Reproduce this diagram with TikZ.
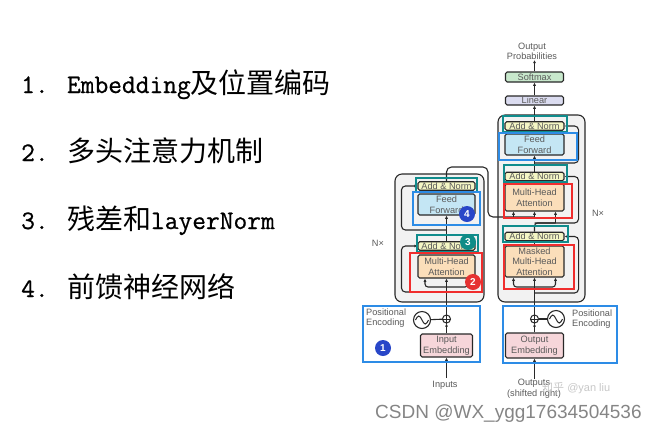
\documentclass[tikz,border=0pt]{standalone}
\usepackage{fontspec}
\usetikzlibrary{arrows.meta,calc}
\newfontfamily\listcjk{Noto Sans CJK SC}
\newfontfamily\diagsans{Liberation Sans}
\newfontfamily\listmonofam[FakeBold=0.7]{Latin Modern Mono}
\newcommand{\listmono}{\listmonofam\fontsize{26.7bp}{30bp}\selectfont}

\definecolor{dk}{RGB}{40,40,40}
\definecolor{txt}{RGB}{90,90,90}
\definecolor{anfill}{RGB}{243,245,196}
\definecolor{fffill}{RGB}{196,230,244}
\definecolor{mhafill}{RGB}{251,222,186}
\definecolor{embfill}{RGB}{246,214,218}
\definecolor{linfill}{RGB}{219,220,240}
\definecolor{smfill}{RGB}{200,232,204}
\definecolor{nxfill}{RGB}{242,242,242}
\definecolor{hlteal}{RGB}{16,140,140}
\definecolor{hlblue}{RGB}{45,140,230}
\definecolor{hlred}{RGB}{240,45,45}
\definecolor{bdblue}{RGB}{40,70,200}
\definecolor{bdred}{RGB}{230,50,50}
\definecolor{bdteal}{RGB}{15,140,135}

\tikzset{
  dfont/.style={font=\diagsans\fontsize{9.2bp}{10.6bp}\selectfont, text=txt},
  blk/.style={draw=dk, line width=1.1bp, rounded corners=1.6bp, inner sep=0pt,
              align=center, dfont},
  anbox/.style={blk, fill=anfill, minimum height=8.5bp},
  ffbox/.style={blk, fill=fffill, minimum height=21bp},
  mhabox/.style={blk, fill=mhafill},
  embbox/.style={blk, fill=embfill},
  link/.style={draw=dk, line width=1.1bp},
  arr/.style={link, -{Latex[length=3.2bp,width=3.2bp]}},
  hl/.style={line width=1.8bp, draw=#1},
  badge/.style={circle, fill=#1, text=white, minimum size=16bp, inner sep=0pt,
                font=\diagsans\bfseries\fontsize{10bp}{10bp}\selectfont},
  nxbox/.style={draw=dk, fill=nxfill, line width=1.1bp, rounded corners=7bp},
  listitem/.style={anchor=base west, inner sep=0pt,
                   font=\fontsize{28bp}{30bp}\selectfont},
  sinecirc/.style={circle, draw=dk, line width=1.1bp, minimum size=17bp, inner sep=0pt},
  pluscirc/.style={circle, draw=dk, line width=1bp, minimum size=8bp, inner sep=0pt},
}

\begin{document}
\begin{tikzpicture}[x=1bp, y=-1bp]
\useasboundingbox (0,0) rectangle (658,431);

% ---------- topic list ----------
\node[listitem] (item1) at (21,93) {{\listmono 1. Embedding}\listcjk 及位置编码};
\node[listitem] (item2) at (21,161) {{\listmono 2. }\listcjk 多头注意力机制};
\node[listitem] (item3) at (21,229) {{\listmono 3. }{\listcjk 残差和}{\listmono layerNorm}};
\node[listitem] (item4) at (21,297) {{\listmono 4. }\listcjk 前馈神经网络};

% ---------- N x stacks ----------
\draw[nxbox] (395,174) rectangle (484,302);
\draw[nxbox] (498,115) rectangle (585,302);

% ---------- encoder ----------
\node[anbox, minimum width=57bp] (ean2) at (446.5,186) {Add \& Norm};
\node[ffbox, minimum width=57bp] (eff) at (446.5,204.5) {Feed\\Forward};
\node[anbox, minimum width=57bp] (ean1) at (446.5,246) {Add \& Norm};
\node[mhabox, minimum width=57bp, minimum height=23bp] (emha) at (446.5,266.5) {Multi-Head\\Attention};
\node[embbox, minimum width=52bp, minimum height=23bp] (eemb) at (446.5,345.5) {Input\\Embedding};
\node[pluscirc] (eplus) at (446.5,319) {};
\node[sinecirc] (esine) at (422,320) {};
\node[dfont, anchor=north] (inputs) at (445,378) {Inputs};
\node[dfont, anchor=west, align=left, inner sep=0pt] (epos) at (366,318) {Positional\\Encoding};
\node[dfont] (enx) at (378,243) {N×};

% ---------- decoder ----------
\node[dfont, align=center, anchor=south, inner sep=0pt] (probs) at (532,60) {Output\\Probabilities};
\node[blk, fill=smfill, minimum width=58bp, minimum height=10bp] (softmax) at (534.5,77) {Softmax};
\node[blk, fill=linfill, minimum width=58bp, minimum height=9bp] (linear) at (534.5,100.5) {Linear};
\node[anbox, minimum width=59bp] (dan3) at (534.5,126) {Add \& Norm};
\node[ffbox, minimum width=59bp] (dff) at (534.5,144.5) {Feed\\Forward};
\node[anbox, minimum width=59bp] (dan2) at (534.5,176.5) {Add \& Norm};
\node[mhabox, minimum width=59bp, minimum height=27bp] (dmha) at (534.5,197.5) {Multi-Head\\Attention};
\node[anbox, minimum width=59bp] (dan1) at (534.5,236.5) {Add \& Norm};
\node[mhabox, minimum width=59bp, minimum height=31bp] (dmmha) at (534.5,261.5) {Masked\\Multi-Head\\Attention};
\node[embbox, minimum width=58bp, minimum height=25bp] (demb) at (534.5,345.5) {Output\\Embedding};
\node[pluscirc] (dplus) at (534.5,319) {};
\node[sinecirc] (dsine) at (556,319) {};
\node[dfont, anchor=north, align=center, inner sep=0pt] (outputs) at (534,379) {Outputs\\(shifted right)};
\node[dfont, anchor=west, align=left, inner sep=0pt] (dpos) at (572,319) {Positional\\Encoding};
\node[dfont] (dnx) at (598,213) {N×};

% plus signs and sine waves
\draw[dk, line width=0.9bp] (eplus.north) -- (eplus.south) (eplus.west) -- (eplus.east);
\draw[dk, line width=0.9bp] (dplus.north) -- (dplus.south) (dplus.west) -- (dplus.east);
\draw[dk, line width=1bp] ([xshift=-6.5bp]esine.center) sin ([xshift=-3.25bp,yshift=4bp]esine.center)
      cos (esine.center) sin ([xshift=3.25bp,yshift=-4bp]esine.center) cos ([xshift=6.5bp]esine.center);
\draw[dk, line width=1bp] ([xshift=-6.5bp]dsine.center) sin ([xshift=-3.25bp,yshift=4bp]dsine.center)
      cos (dsine.center) sin ([xshift=3.25bp,yshift=-4bp]dsine.center) cos ([xshift=6.5bp]dsine.center);

% ---------- encoder connectors ----------
\coordinate (esplit) at (446.5,287);
\coordinate (eres1) at (446.5,292);
\coordinate (eres2) at (446.5,230);
\coordinate (eoutB) at (488,167);
\coordinate (kvL) at (513.5,217);
\coordinate (kvR) at (534.5,217);

\draw[arr] (eemb.south |- inputs.north) -- (eemb.south);
\draw[arr] (eemb.north) -- (eplus.south);
\draw[link] (esine) -- (eplus);
\draw[link] (eplus.north) -- (esplit);
\draw[arr] (esplit) -- (emha.south);
\draw[arr, rounded corners=3bp] (esplit) -| ([xshift=-21.5bp]emha.south);
\draw[arr, rounded corners=3bp] (esplit) -| ([xshift=21.5bp]emha.south);
\draw[arr, rounded corners=4bp] (eres1) -| ([xshift=-16bp]ean1.west) -- (ean1.west);
\draw[link] (emha.north) -- (ean1.south);
\draw[arr] (ean1.north) -- (eff.south);
\draw[arr, rounded corners=4bp] (eres2) -| ([xshift=-16bp]ean2.west) -- (ean2.west);
\draw[link] (eff.north) -- (ean2.south);
\draw[link, rounded corners=5bp] (ean2.north) |- (eoutB) |- (kvR);
\draw[arr] (kvL) -- (kvL |- dmha.south);
\draw[arr] (kvR) -- (dmha.south);

% ---------- decoder connectors ----------
\coordinate (dsplit) at (534.5,287);
\coordinate (dres1) at (534.5,293);
\coordinate (qsplit) at (534.5,223);
\coordinate (qR) at (555.5,223);
\coordinate (dres3) at (534.5,163);

\draw[arr] (demb.south |- outputs.north) -- (demb.south);
\draw[arr] (demb.north) -- (dplus.south);
\draw[link] (dsine) -- (dplus);
\draw[link] (dplus.north) -- (dsplit);
\draw[arr] (dsplit) -- (dmmha.south);
\draw[arr, rounded corners=3bp] (dsplit) -| ([xshift=-21bp]dmmha.south);
\draw[arr, rounded corners=3bp] (dsplit) -| ([xshift=21bp]dmmha.south);
\draw[arr, rounded corners=4bp] (dres1) -| ([xshift=14bp]dan1.east) -- (dan1.east);
\draw[link] (dmmha.north) -- (dan1.south);
\draw[link, rounded corners=3bp] (dan1.north) |- (qR);
\draw[arr] (qR) -- (qR |- dmha.south);
\draw[arr, rounded corners=4bp] (qsplit) -| ([xshift=14bp]dan2.east) -- (dan2.east);
\draw[link] (dmha.north) -- (dan2.south);
\draw[arr] (dan2.north) -- (dff.south);
\draw[arr, rounded corners=4bp] (dres3) -| ([xshift=14bp]dan3.east) -- (dan3.east);
\draw[link] (dff.north) -- (dan3.south);
\draw[arr] (dan3.north) -- (linear.south);
\draw[arr] (linear.north) -- (softmax.south);
\draw[arr] (softmax.north) -- (softmax.north |- probs.south);

% ---------- highlight frames ----------
\draw[hl=hlteal] (503,116) rectangle (567,132);
\draw[hl=hlteal] (504,165) rectangle (567,182);
\draw[hl=hlteal] (503,226) rectangle (568,242);
\draw[hl=hlteal] (416,178) rectangle (477,192);
\draw[hl=hlteal] (417,235) rectangle (478,252);
\draw[hl=hlblue] (499,133) rectangle (577,160);
\draw[hl=hlblue] (413,192) rectangle (480,225);
\draw[hl=hlblue] (363,306) rectangle (480,362);
\draw[hl=hlblue] (503,306) rectangle (617,363);
\draw[hl=hlred] (504,184) rectangle (572,218);
\draw[hl=hlred] (504,245) rectangle (574,289);
\draw[hl=hlred] (410,253) rectangle (482,292);

% ---------- numbered badges ----------
\node[badge=bdblue] (b1) at (383,348) {1};
\node[badge=bdred] (b2) at (473,282) {2};
\node[badge=bdteal] (b3) at (468,242) {3};
\node[badge=bdblue] (b4) at (467,214) {4};

% ---------- credits ----------
\node[anchor=west, inner sep=0pt, text=black!22, font=\diagsans\fontsize{11bp}{12bp}\selectfont]
  (zh) at (542,388) {{\listcjk 知乎} @yan liu};
\node[anchor=base west, inner sep=0pt, text=black!48, font=\diagsans\fontsize{19bp}{20bp}\selectfont]
  (csdn) at (375,418) {CSDN @WX\_ygg17634504536};
\end{tikzpicture}
\end{document}
